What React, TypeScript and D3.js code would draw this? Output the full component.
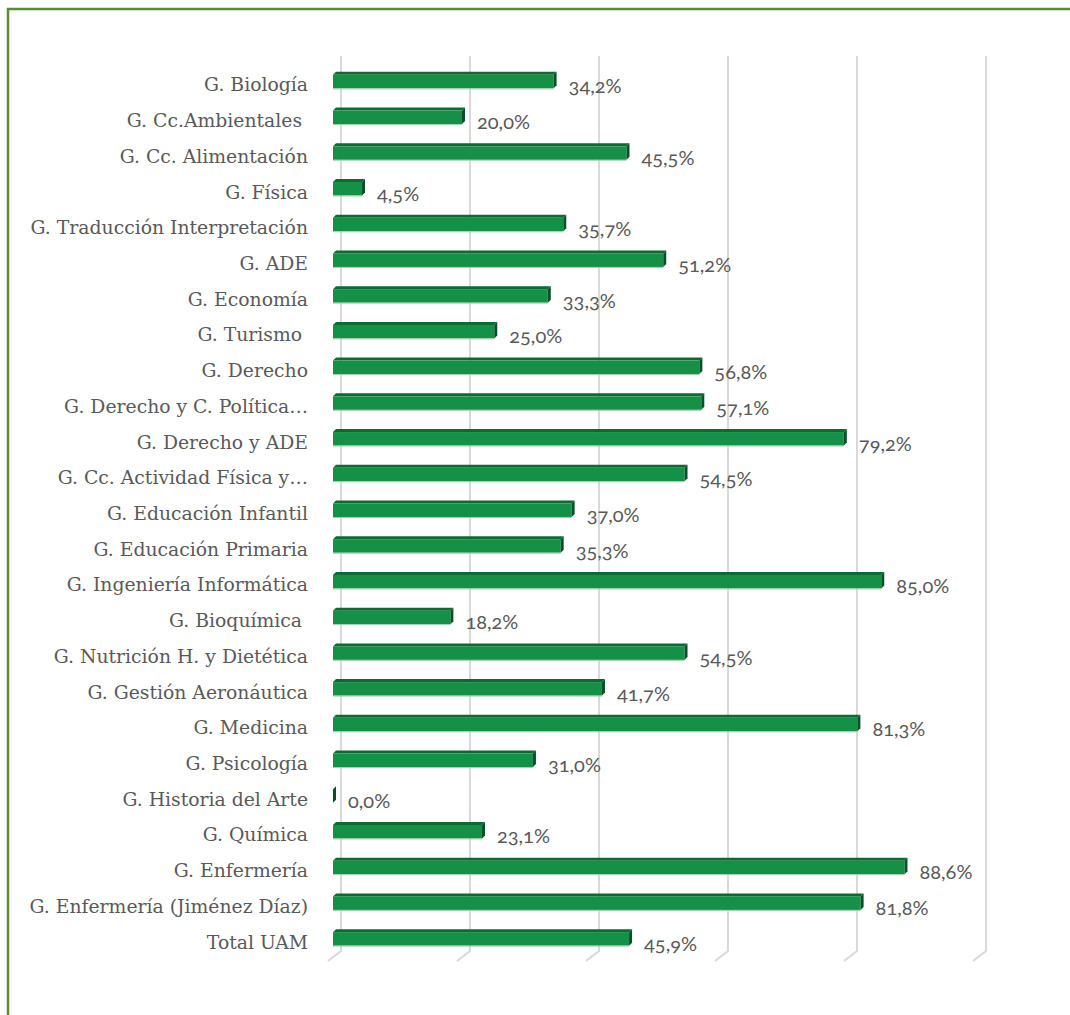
import React from "react";
import * as d3 from "d3";

const categories = [
  "G. Biología",
  "G. Cc.Ambientales ",
  "G. Cc. Alimentación",
  "G. Física",
  "G. Traducción Interpretación",
  "G. ADE",
  "G. Economía",
  "G. Turismo ",
  "G. Derecho",
  "G. Derecho y C. Política…",
  "G. Derecho y ADE",
  "G. Cc. Actividad Física y…",
  "G. Educación Infantil",
  "G. Educación Primaria",
  "G. Ingeniería Informática",
  "G. Bioquímica ",
  "G. Nutrición H. y Dietética",
  "G. Gestión Aeronáutica",
  "G. Medicina",
  "G. Psicología",
  "G. Historia del Arte",
  "G. Química",
  "G. Enfermería",
  "G. Enfermería (Jiménez Díaz)",
  "Total UAM",
];

const values = [
  34.2, 20.0, 45.5, 4.5, 35.7, 51.2, 33.3, 25.0, 56.8, 57.1, 79.2, 54.5, 37.0,
  35.3, 85.0, 18.2, 54.5, 41.7, 81.3, 31.0, 0.0, 23.1, 88.6, 81.8, 45.9,
];

const gridTicks = [0, 20, 40, 60, 80, 100];

const W = 1070;
const H = 1015;

export default function App() {
  const x = d3.scaleLinear().domain([0, 100]).range([333, 978]);
  const y = d3
    .scaleBand()
    .domain(categories.map((_, i) => String(i)))
    .range([62, 955])
    .paddingInner(0)
    .paddingOuter(0);
  const fmt = (v: number) => v.toFixed(1).replace(".", ",") + "%";
  const gridTop = 56;
  const gridBottom = 951;
  const dep = 3;

  return (
    <svg
      width={W}
      height={H}
      style={{ position: "absolute", left: 0, top: 0, background: "#fff" }}
    >
      <rect x={0} y={0} width={W} height={H} fill="#fff" />
      <path
        d={`M8,${H + 5} L8,9 L${W + 5},9`}
        fill="none"
        stroke="#5a8a38"
        strokeWidth={2.5}
      />
      {gridTicks.map((t) => {
        const gx = x(t) + 8;
        return (
          <path
            key={t}
            d={`M${gx},${gridTop} L${gx},${gridBottom} L${gx - 13},${gridBottom + 10}`}
            fill="none"
            stroke="#d9d9d9"
            strokeWidth={2}
          />
        );
      })}
      {categories.map((c, i) => {
        const yc = (y(String(i)) as number) + y.bandwidth() / 2;
        const v = values[i];
        const x0 = x(0);
        const x1 = x(v);
        const top = yc - 5;
        const bot = yc + 8.5;
        return (
          <g key={i}>
            {x1 > x0 && (
              <>
                <path
                  d={`M${x0},${top} L${x0 + dep},${top - dep} L${x1 + dep},${top - dep} L${x1},${top} Z`}
                  fill="#0d6a33"
                />
                <rect
                  x={x0}
                  y={top}
                  width={x1 - x0}
                  height={bot - top}
                  fill="#149147"
                />
                <line
                  x1={x0}
                  x2={x1}
                  y1={bot + 0.5}
                  y2={bot + 0.5}
                  stroke="#9fd0ae"
                  strokeWidth={1}
                />
              </>
            )}
            <path
              d={`M${x1},${top} L${x1 + dep},${top - dep} L${x1 + dep},${bot - dep} L${x1},${bot} Z`}
              fill="#08502a"
            />
            <text
              x={308}
              y={yc + 5}
              textAnchor="end"
              dominantBaseline="central"
              fontFamily="'DejaVu Serif', serif"
              fontSize={18.8}
              fill="#595959"
              style={{ whiteSpace: "pre" }}
            >
              {c}
            </text>
            <text
              x={x1 + 15}
              y={yc + 5.5}
              dominantBaseline="central"
              fontFamily="Lato, sans-serif"
              fontSize={20}
              fill="#595959"
              style={{ fontVariantNumeric: "oldstyle-nums" }}
            >
              {fmt(v)}
            </text>
          </g>
        );
      })}
    </svg>
  );
}
